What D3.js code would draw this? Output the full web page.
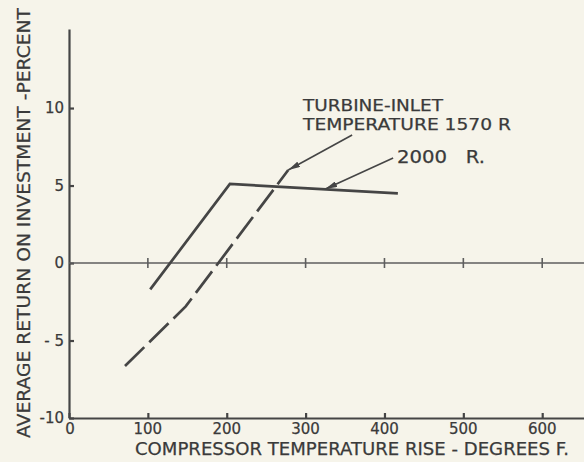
<!DOCTYPE html>
<html>
<head>
<meta charset="utf-8">
<script src="https://cdn.jsdelivr.net/npm/d3@7"></script>
<style>
  html, body { margin: 0; padding: 0; background: #f6f4ea; }
  svg { display: block; }
  text { font-family: "DejaVu Sans", sans-serif; fill: #3a3a3a; stroke: #3a3a3a; stroke-width: 0.25px; white-space: pre; }
</style>
</head>
<body>
<svg id="chart" width="584" height="462"></svg>
<script>
// Tick values and labels
const xTicks = [0, 100, 200, 300, 400, 500, 600];
const xTickLabels = ["0", "100", "200", "300", "400", "500", "600"];
const yTicks = [-10, -5, 0, 5, 10];
const yTickLabels = ["-10", "- 5", "0", "5", "10"];

// Return on investment vs compressor temperature rise, one curve per turbine-inlet temperature
const rise2000 = [103, 204, 417];
const roi2000 = [-1.7, 5.1, 4.5];
const rise1570 = [71, 148, 278];
const roi1570 = [-6.65, -2.8, 6.0];

const W = 584, H = 462;
const svg = d3.select("#chart");
const ink = "#454545";

const x = d3.scaleLinear().domain([0, 653]).range([69, 584]);
const y = d3.scaleLinear().domain([-10, 15.1]).range([418, 29]);

// Arrowhead used by the leader lines
svg.append("defs").append("marker")
  .attr("id", "arrow")
  .attr("viewBox", "0 0 12 6")
  .attr("refX", 12).attr("refY", 3)
  .attr("markerWidth", 12).attr("markerHeight", 6)
  .attr("markerUnits", "userSpaceOnUse")
  .attr("orient", "auto")
  .append("path")
  .attr("d", "M0,0 L12,3 L0,6 Z")
  .attr("fill", ink);

// Axes with inward ticks
const xAxis = svg.append("g")
  .attr("transform", `translate(0,${y(-10)})`)
  .call(d3.axisBottom(x).tickValues(xTicks).tickSizeInner(-5).tickSizeOuter(0).tickFormat(""));
const yAxis = svg.append("g")
  .attr("transform", `translate(${x(0)},0)`)
  .call(d3.axisLeft(y).tickValues(yTicks).tickSizeInner(-5).tickSizeOuter(0).tickFormat(""));
[xAxis, yAxis].forEach(g => {
  g.selectAll("path, line").attr("stroke", ink).attr("stroke-width", 2.2);
});

// Zero reference line with crossing ticks
svg.append("line")
  .attr("x1", x(0)).attr("x2", W)
  .attr("y1", y(0)).attr("y2", y(0))
  .attr("stroke", "#5e5e5e").attr("stroke-width", 1.4);
svg.append("g").selectAll("line")
  .data(xTicks.filter(d => d > 0))
  .join("line")
  .attr("x1", d => x(d)).attr("x2", d => x(d))
  .attr("y1", y(0) - 5).attr("y2", y(0) + 5)
  .attr("stroke", "#5e5e5e").attr("stroke-width", 1.6);

// Tick labels
svg.append("g").selectAll("text")
  .data(xTicks)
  .join("text")
  .attr("x", d => x(d) + (d === 0 ? 1 : 0))
  .attr("y", 434)
  .attr("text-anchor", "middle")
  .attr("font-size", 15)
  .text((d, i) => xTickLabels[i]);

svg.append("g").selectAll("text")
  .data(yTicks)
  .join("text")
  .attr("x", 64)
  .attr("y", d => y(d))
  .attr("dy", "0.36em")
  .attr("text-anchor", "end")
  .attr("font-size", 15)
  .text((d, i) => yTickLabels[i]);

// Axis titles
svg.append("text")
  .attr("x", 135).attr("y", 455)
  .attr("font-size", 17)
  .attr("textLength", 434)
  .attr("lengthAdjust", "spacingAndGlyphs")
  .text("COMPRESSOR TEMPERATURE RISE - DEGREES F.");

svg.append("text")
  .attr("transform", "translate(30,438) rotate(-90)")
  .attr("font-size", 17.5)
  .attr("textLength", 430)
  .attr("lengthAdjust", "spacingAndGlyphs")
  .text("AVERAGE RETURN ON INVESTMENT -PERCENT");

// Curves
const line = d3.line().x(d => x(d[0])).y(d => y(d[1]));

svg.append("path")
  .datum(d3.zip(rise2000, roi2000))
  .attr("d", line)
  .attr("fill", "none")
  .attr("stroke", ink)
  .attr("stroke-width", 2.7)
  .attr("stroke-linejoin", "miter");

svg.append("path")
  .datum(d3.zip(rise1570, roi1570))
  .attr("d", line)
  .attr("fill", "none")
  .attr("stroke", ink)
  .attr("stroke-width", 2.7)
  .attr("stroke-dasharray", "27,7");

// Annotations
svg.append("text")
  .attr("x", 303).attr("y", 111)
  .attr("font-size", 16)
  .attr("textLength", 140)
  .attr("lengthAdjust", "spacingAndGlyphs")
  .text("TURBINE-INLET");
svg.append("text")
  .attr("x", 303).attr("y", 130)
  .attr("font-size", 16)
  .attr("textLength", 208)
  .attr("lengthAdjust", "spacingAndGlyphs")
  .text("TEMPERATURE 1570 R");
svg.append("text")
  .attr("x", 397).attr("y", 163)
  .attr("font-size", 17)
  .attr("textLength", 88)
  .attr("lengthAdjust", "spacingAndGlyphs")
  .text("2000   R.");

// Leader lines: tail point, then arrow tip on the curve
const leaders = [
  [[359, 8.26], [278, 6.0]],
  [[411, 6.77], [325, 4.77]]
];
svg.append("g").selectAll("line")
  .data(leaders)
  .join("line")
  .attr("x1", d => x(d[0][0])).attr("y1", d => y(d[0][1]))
  .attr("x2", d => x(d[1][0])).attr("y2", d => y(d[1][1]))
  .attr("stroke", ink)
  .attr("stroke-width", 1.6)
  .attr("marker-end", "url(#arrow)");
</script>
</body>
</html>
